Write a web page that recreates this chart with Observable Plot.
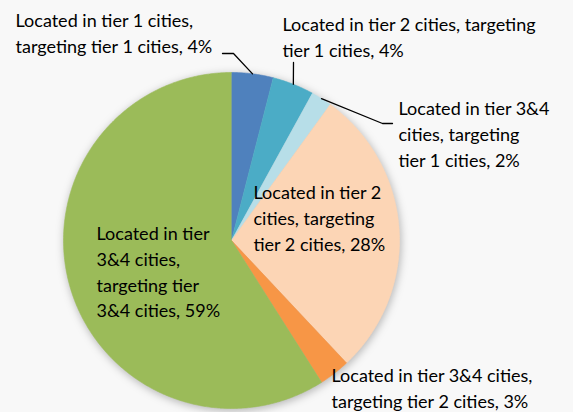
<!DOCTYPE html>
<html><head><meta charset="utf-8">
<script src="https://cdn.jsdelivr.net/npm/d3@7"></script>
<script src="https://cdn.jsdelivr.net/npm/@observablehq/plot@0.6"></script>
<style>
html,body{margin:0;padding:0;background:#f8f8f8;overflow:hidden;}
#chart svg{display:block;background:#f8f8f8;}
</style></head><body><div id="chart"></div>
<script>
// ---- data ----
const categories = [
  "Located in tier 1 cities, targeting tier 1 cities",
  "Located in tier 2 cities, targeting tier 1 cities",
  "Located in tier 3&4 cities, targeting tier 1 cities",
  "Located in tier 2 cities, targeting tier 2 cities",
  "Located in tier 3&4 cities, targeting tier 2 cities",
  "Located in tier 3&4 cities, targeting tier 3&4 cities"
];
const values = [4, 4, 2, 28, 3, 59];
const labelTexts = [
  "Located in tier 1 cities,\ntargeting tier 1 cities, 4%",
  "Located in tier 2 cities, targeting\ntier 1 cities, 4%",
  "Located in tier 3&4\ncities, targeting\ntier 1 cities, 2%",
  "Located in tier 2\ncities, targeting\ntier 2 cities, 28%",
  "Located in tier\n3&4 cities,\ntargeting tier\n3&4 cities, 59%",
  "Located in tier 3&4 cities,\ntargeting tier 2 cities, 3%"
];

// ---- layout / style ----
const colors = ["#4F81BD", "#4BACC6", "#B7DEE8", "#FCD5B5", "#F79646", "#9BBB59"];
const W = 573, H = 412, cx = 231, cy = 240, R = 168;
const fontSize = 18, lineHeight = 1.43;
const labelBaselines = [[15, 25], [282, 29], [398, 113], [253, 197], [96, 238], [331, 380]];
const leaderBends = [[[233, 53], [222, 53]], [[293, 62]], [[382, 123], [392, 123]], null, null, null];

const arcs = d3.pie().sort(null).value(d => d)(values);
const pt = (a, r) => [cx + r * Math.sin(a), cy - r * Math.cos(a)];

const slicePts = [];
arcs.forEach((a, i) => {
  slicePts.push({k: categories[i], x: cx, y: cy});
  const n = Math.max(2, Math.ceil((a.endAngle - a.startAngle) / (Math.PI / 360)));
  for (let j = 0; j <= n; j++) {
    const t = a.startAngle + (a.endAngle - a.startAngle) * j / n;
    const [x, y] = pt(t, R);
    slicePts.push({k: categories[i], x, y});
  }
});

const leaderPts = [];
arcs.forEach((a, i) => {
  if (!leaderBends[i]) return;
  const [x0, y0] = pt((a.startAngle + a.endAngle) / 2, R);
  leaderPts.push({k: i, x: x0, y: y0});
  leaderBends[i].forEach(([x, y]) => leaderPts.push({k: i, x, y}));
});

const topOffset = (0.71 + (lineHeight - 1) / 2) * fontSize;
const labels = labelTexts.map((t, i) => ({
  t, x: labelBaselines[i][0], y: labelBaselines[i][1] - topOffset
}));

const chart = Plot.plot({
  width: W, height: H,
  margin: 0,
  style: {background: "#f8f8f8", fontFamily: "Lato, 'Open Sans', sans-serif"},
  x: {domain: [0, W], range: [0, W], axis: null},
  y: {domain: [0, H], range: [0, H], axis: null},
  color: {domain: categories, range: colors},
  marks: [
    Plot.line(slicePts, {x: "x", y: "y", z: "k", fill: "k", stroke: "k", strokeWidth: 0.6, curve: "linear"}),
    Plot.line(leaderPts, {x: "x", y: "y", z: "k", stroke: "#000", strokeWidth: 1.3}),
    Plot.text(labels, {x: "x", y: "y", text: "t", textAnchor: "start", lineAnchor: "top",
      lineHeight, fontSize, fill: "#000"})
  ]
});
document.getElementById("chart").appendChild(chart);
const g = chart.querySelector('g[aria-label="line"]');
if (g) g.style.filter = "drop-shadow(1px 2px 4px rgba(0,0,0,0.28))";
</script>
</body></html>
